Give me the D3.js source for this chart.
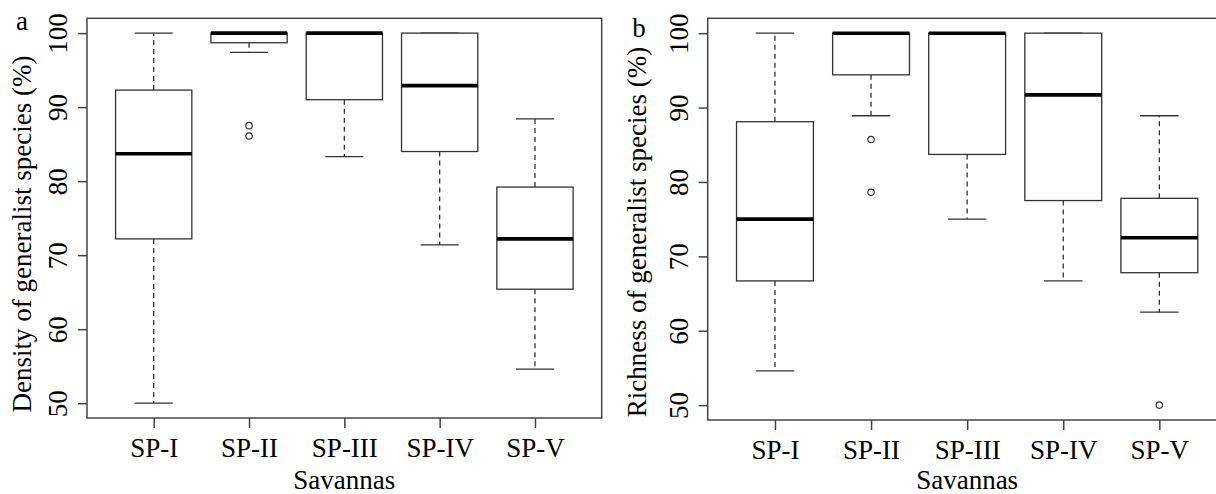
<!DOCTYPE html>
<html><head><meta charset="utf-8">
<script src="https://cdn.jsdelivr.net/npm/d3@7"></script>
<style>
html,body{margin:0;padding:0;background:#fff;}
svg text{font-family:"Liberation Serif","Tinos","Times New Roman","DejaVu Serif",serif !important;fill:#000;}
</style></head>
<body><svg id="chart" width="1216" height="494"></svg>
<script>
// ---- data ----
const categories = ["SP-I","SP-II","SP-III","SP-IV","SP-V"];
const yTicks = [50,60,70,80,90,100];
// Panel a: density of generalist species (%)
const densityLowWhisker = [50.0, 97.4, 83.3, 71.4, 54.6];
const densityQ1         = [72.2, 98.7, 91.0, 84.0, 65.4];
const densityMedian     = [83.7, 100,  100,  92.9, 72.2];
const densityQ3         = [92.3, 100,  100,  100,  79.2];
const densityHighWhisker= [100,  100,  100,  100,  88.4];
const densityOutliers   = [[], [87.5, 86.1], [], [], []];
// Panel b: richness of generalist species (%)
const richnessLowWhisker = [54.6, 88.9, 75.0, 66.7, 62.5];
const richnessQ1         = [66.7, 94.4, 83.7, 77.5, 67.8];
const richnessMedian     = [75.0, 100,  100,  91.7, 72.5];
const richnessQ3         = [88.1, 100,  100,  100,  77.8];
const richnessHighWhisker= [100,  100,  100,  100,  88.9];
const richnessOutliers   = [[], [85.7, 78.6], [], [], [50.0]];

const svg = d3.select("#chart");
const FS = 27;
const FONT = '"Liberation Serif","Tinos","Times New Roman","DejaVu Serif",serif';

function panel(cfg){
  const {left,right,top,bottom,lo,q1,med,q3,hi,out,ytitle,letter,letterPos,ytitleX,ytitleY} = cfg;
  const x = d3.scaleLinear().domain([0.3,5.7]).range([left,right]);
  const y = d3.scaleLinear().domain([48,102]).range([bottom,top]);
  const g = svg.append("g");
  const stats = categories.map((c,i)=>({i:i+1,lo:lo[i],q1:q1[i],med:med[i],q3:q3[i],hi:hi[i],out:out[i]}));
  const bw = 0.8, sw = 0.4;
  const bx = g.selectAll("g.box").data(stats).join("g");
  bx.append("line").attr("x1",d=>x(d.i)).attr("x2",d=>x(d.i))
    .attr("y1",d=>y(d.q3)).attr("y2",d=>y(d.hi))
    .attr("stroke","#333").attr("stroke-width",1.3).attr("stroke-dasharray","5,4");
  bx.append("line").attr("x1",d=>x(d.i)).attr("x2",d=>x(d.i))
    .attr("y1",d=>y(d.q1)).attr("y2",d=>y(d.lo))
    .attr("stroke","#333").attr("stroke-width",1.3).attr("stroke-dasharray","5,4");
  bx.append("line").attr("x1",d=>x(d.i-sw/2)).attr("x2",d=>x(d.i+sw/2))
    .attr("y1",d=>y(d.hi)).attr("y2",d=>y(d.hi)).attr("stroke","#333").attr("stroke-width",1.3);
  bx.append("line").attr("x1",d=>x(d.i-sw/2)).attr("x2",d=>x(d.i+sw/2))
    .attr("y1",d=>y(d.lo)).attr("y2",d=>y(d.lo)).attr("stroke","#333").attr("stroke-width",1.3);
  bx.append("rect").attr("x",d=>x(d.i-bw/2)).attr("width",d=>x(d.i+bw/2)-x(d.i-bw/2))
    .attr("y",d=>y(d.q3)).attr("height",d=>y(d.q1)-y(d.q3))
    .attr("fill","#fff").attr("stroke","#333").attr("stroke-width",1.3);
  bx.append("line").attr("x1",d=>x(d.i-bw/2)).attr("x2",d=>x(d.i+bw/2))
    .attr("y1",d=>y(d.med)).attr("y2",d=>y(d.med)).attr("stroke","#000").attr("stroke-width",3.6);
  bx.each(function(d){
    d3.select(this).selectAll("circle").data(d.out).join("circle")
      .attr("cx",x(d.i)).attr("cy",v=>y(v)).attr("r",3.2)
      .attr("fill","none").attr("stroke","#333").attr("stroke-width",1.2);
  });
  g.append("rect").attr("x",left).attr("y",top).attr("width",right-left).attr("height",bottom-top)
    .attr("fill","none").attr("stroke","#444").attr("stroke-width",1.5);
  const ya = g.append("g").attr("transform",`translate(${left},0)`)
    .call(d3.axisLeft(y).tickValues(yTicks).tickSize(9).tickSizeOuter(0));
  ya.attr("font-family",FONT);
  ya.select(".domain").remove();
  ya.selectAll(".tick line").attr("stroke","#444").attr("stroke-width",1.5);
  ya.selectAll(".tick text").attr("transform","rotate(-90)").attr("x",0).attr("y",-20).attr("dy",0)
    .attr("text-anchor","middle").attr("font-size",FS).attr("fill","#000");
  const xa = g.append("g").attr("transform",`translate(0,${bottom})`)
    .call(d3.axisBottom(x).tickValues([1,2,3,4,5]).tickFormat(v=>categories[v-1]).tickSize(10).tickSizeOuter(0));
  xa.attr("font-family",FONT);
  xa.select(".domain").remove();
  xa.selectAll(".tick line").attr("stroke","#444").attr("stroke-width",1.5);
  xa.selectAll(".tick text").attr("y",39).attr("dy",0).attr("font-size",FS).attr("fill","#000");
  g.append("text").attr("x",(left+right)/2).attr("y",489).attr("text-anchor","middle")
    .attr("font-family",FONT).attr("font-size",FS).text("Savannas");
  g.append("text").attr("transform",`translate(${ytitleX},${ytitleY}) rotate(-90)`)
    .attr("font-family",FONT).attr("text-anchor","middle").attr("font-size",FS).text(ytitle);
  g.append("text").attr("x",letterPos[0]).attr("y",letterPos[1]).attr("text-anchor","middle")
    .attr("font-family",FONT).attr("font-size",FS).text(letter);
}

panel({left:87,right:601.7,top:18.3,bottom:418,lo:densityLowWhisker,q1:densityQ1,med:densityMedian,
  q3:densityQ3,hi:densityHighWhisker,out:densityOutliers,ytitle:"Density of generalist species (%)",
  letter:"a",letterPos:[22,30],ytitleX:31,ytitleY:234});
panel({left:707.7,right:1226.6,top:18.3,bottom:420,lo:richnessLowWhisker,q1:richnessQ1,med:richnessMedian,
  q3:richnessQ3,hi:richnessHighWhisker,out:richnessOutliers,ytitle:"Richness of generalist species (%)",
  letter:"b",letterPos:[639,37],ytitleX:646,ytitleY:232});
</script></body></html>
